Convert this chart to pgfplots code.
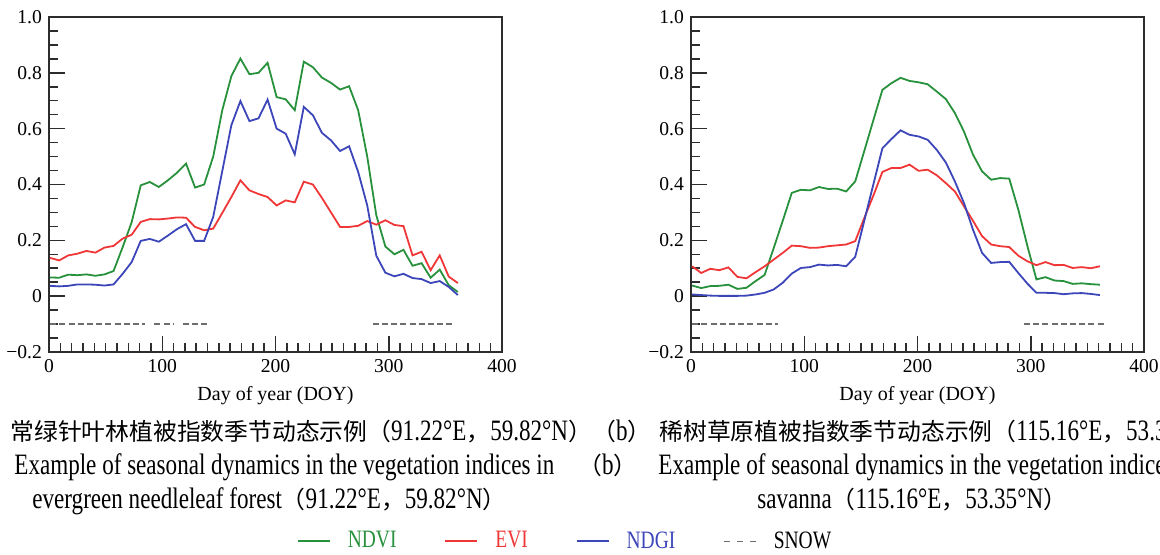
\documentclass[border=0pt]{standalone}
\usepackage{pgfplots}
\pgfplotsset{compat=1.18}
\usepackage{pgfplotstable}
\usepackage{fontspec}
\setmainfont{Liberation Serif}
\newfontfamily\capfont[FakeStretch=0.78]{Liberation Serif}
\newfontfamily\cjk{Noto Sans CJK SC}

\definecolor{ndvi}{RGB}{40,145,60}
\definecolor{evi}{RGB}{240,55,55}
\definecolor{ndgi}{RGB}{60,70,185}
\definecolor{snow}{RGB}{110,110,110}
\definecolor{axcol}{RGB}{45,45,45}

% (a) evergreen needleleaf forest, 8-day composites
\pgfplotstableread{
doy ndvi evi ndgi
1   0.067 0.137 0.037
9   0.066 0.128 0.035
17  0.077 0.146 0.037
25  0.075 0.152 0.042
33  0.078 0.162 0.042
41  0.073 0.156 0.041
49  0.078 0.174 0.038
57  0.090 0.180 0.042
65  0.175 0.206 0.080
73  0.265 0.220 0.122
81  0.397 0.266 0.198
89  0.409 0.276 0.205
97  0.391 0.275 0.195
105 0.415 0.278 0.217
113 0.442 0.282 0.240
121 0.475 0.281 0.258
129 0.389 0.248 0.198
137 0.400 0.236 0.198
145 0.500 0.242 0.284
153 0.666 0.298 0.448
161 0.788 0.355 0.612
169 0.851 0.415 0.699
177 0.795 0.379 0.627
185 0.800 0.366 0.637
193 0.836 0.355 0.704
201 0.713 0.325 0.600
209 0.705 0.343 0.582
217 0.666 0.336 0.508
225 0.840 0.410 0.678
233 0.820 0.400 0.648
241 0.783 0.352 0.585
249 0.764 0.300 0.558
257 0.740 0.248 0.520
265 0.752 0.248 0.537
273 0.666 0.252 0.445
281 0.500 0.269 0.325
289 0.290 0.256 0.145
297 0.178 0.272 0.084
305 0.150 0.255 0.071
313 0.166 0.251 0.080
321 0.109 0.146 0.065
329 0.118 0.159 0.061
337 0.066 0.093 0.047
345 0.095 0.146 0.054
353 0.039 0.070 0.033
361 0.015 0.047 0.004
}\foresttab

\pgfplotstableread{
doy snow
1   -0.1
85  -0.1
nan nan
93  -0.1
110 -0.1
nan nan
118 -0.1
141 -0.1
nan nan
286 -0.1
357 -0.1
}\forestsnow

% (b) savanna
\pgfplotstableread{
doy ndvi evi ndgi
1   0.038 0.107 0.006
9   0.029 0.083 0.004
17  0.036 0.098 0.002
25  0.037 0.093 0.001
33  0.041 0.103 0.001
41  0.026 0.069 0.001
49  0.030 0.064 0.002
57  0.054 0.086 0.006
65  0.076 0.107 0.012
73  0.172 0.131 0.024
81  0.270 0.155 0.048
89  0.370 0.181 0.081
97  0.381 0.179 0.101
105 0.379 0.173 0.104
113 0.391 0.174 0.113
121 0.384 0.179 0.110
129 0.385 0.182 0.112
137 0.375 0.185 0.107
145 0.411 0.197 0.141
153 0.520 0.280 0.270
161 0.630 0.360 0.400
169 0.739 0.445 0.530
177 0.763 0.459 0.563
185 0.782 0.459 0.594
193 0.771 0.471 0.578
201 0.766 0.449 0.572
209 0.759 0.453 0.560
217 0.733 0.433 0.524
225 0.706 0.405 0.479
233 0.656 0.375 0.411
241 0.590 0.322 0.334
249 0.507 0.270 0.238
257 0.447 0.215 0.155
265 0.417 0.185 0.119
273 0.423 0.179 0.122
281 0.421 0.176 0.123
289 0.310 0.145 0.083
297 0.180 0.125 0.045
305 0.060 0.111 0.012
313 0.068 0.122 0.012
321 0.056 0.111 0.011
329 0.054 0.112 0.007
337 0.044 0.101 0.010
345 0.046 0.104 0.011
353 0.043 0.100 0.008
361 0.041 0.107 0.004
}\savannatab

\pgfplotstableread{
doy snow
1   -0.1
77  -0.1
nan nan
294 -0.1
365 -0.1
}\savannasnow

\pgfplotsset{
  panel/.style={
    scale only axis, width=226.5pt, height=167.5pt,
    xmin=0, xmax=400, ymin=-0.2, ymax=1.0,
    xtick={0,100,200,300,400}, xticklabels={0,100,200,300,400},
    ytick={-0.2,0,0.2,0.4,0.6,0.8,1.0},
    yticklabels={−0.2,0,0.2,0.4,0.6,0.8,1.0},
    minor x tick num=9, minor y tick num=3,
    tick align=inside, xtick pos=left, ytick pos=left,
    major tick length=8pt, minor tick length=4.5pt,
    axis line style={axcol, line width=0.75pt},
    every tick/.style={axcol, line width=0.75pt},
    tick label style={font=\fontsize{9.8}{11}\selectfont, text=black},
    xlabel={Day of year (DOY)},
    xlabel style={font=\fontsize{10}{12}\selectfont},
    unbounded coords=jump,
  },
  vi/.style={line width=0.9pt, #1},
  sn/.style={snow, line width=0.7pt, dash pattern=on 3pt off 1.6pt,
    legend image post style={dash pattern=on 3pt off 3.5pt}},
}

\newcommand\cn{\cjk\fontsize{11.9}{14}\selectfont}
\newcommand\en{\capfont\fontsize{14.8}{16}\selectfont}

\begin{document}
\begin{tikzpicture}[x=0.5pt, y=0.5pt]
\coordinate (A) at (49,203);
\coordinate (B) at (691,203);
\begin{axis}[panel, at={(A)}, anchor=south west,
    legend columns=4,
    legend style={at={(0.5475,-0.565)}, anchor=west, draw=none, fill=none,
      inner sep=0pt, outer sep=0pt,
      font=\capfont\fontsize{12.5}{14}\selectfont,
      nodes={inner sep=0pt},
      /tikz/every odd column/.append style={column sep=8.5pt},
      /tikz/every even column/.append style={column sep=24pt}},
    legend image code/.code={\draw[#1] (0pt,0pt) -- (16pt,0pt);}]
\addplot[vi=ndvi] table[x=doy, y=ndvi] {\foresttab};
\addlegendentry{\textcolor{ndvi}{NDVI}}
\addplot[vi=evi] table[x=doy, y=evi] {\foresttab};
\addlegendentry{\textcolor{evi}{EVI}}
\addplot[vi=ndgi] table[x=doy, y=ndgi] {\foresttab};
\addlegendentry{\textcolor{ndgi}{NDGI}}
\addplot[sn] table[x=doy, y=snow] {\forestsnow};
\addlegendentry{SNOW}
\end{axis}

\begin{axis}[panel, at={(B)}, anchor=south west]
\addplot[vi=ndvi] table[x=doy, y=ndvi] {\savannatab};
\addplot[vi=evi] table[x=doy, y=evi] {\savannatab};
\addplot[vi=ndgi] table[x=doy, y=ndgi] {\savannatab};
\addplot[sn] table[x=doy, y=snow] {\savannasnow};
\end{axis}

% captions
\begin{scope}[every node/.style={anchor=base west, inner sep=0pt}]
\node at (10,114) {\cn 常绿针叶林植被指数季节动态示例（\en 91.22°E\cn ，\en 59.82°N\cn ）};
\node at (592,114) {\cn （\en b\cn ）};
\node at (659,114) {\cn 稀树草原植被指数季节动态示例（\en 115.16°E\cn ，\en 53.35°N\cn ）};
\node at (14,80) {\en Example of seasonal dynamics in the vegetation indices in};
\node at (578,80) {\cn （\en b\cn ）};
\node at (658,80) {\en Example of seasonal dynamics in the vegetation indices in};
\node at (32,46) {\en evergreen needleleaf forest\cn （\en 91.22°E\cn ，\en 59.82°N\cn ）};
\node at (757,46) {\en savanna\cn （\en 115.16°E\cn ，\en 53.35°N\cn ）};
\end{scope}

\pgfresetboundingbox
\path[use as bounding box] (0,0) rectangle (1160,555);
\end{tikzpicture}
\end{document}
